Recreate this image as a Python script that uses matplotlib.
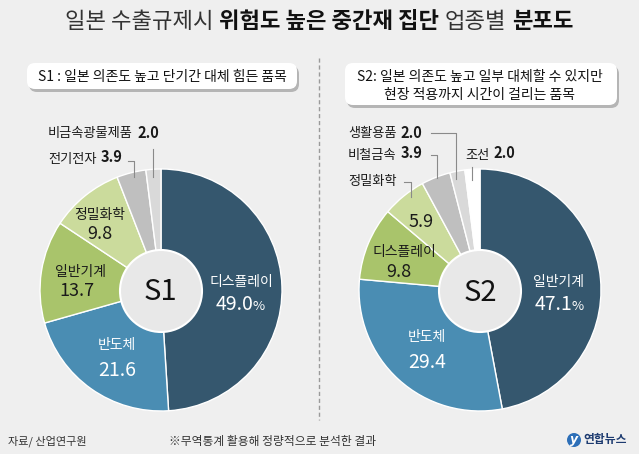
import matplotlib
matplotlib.use("Agg")
import matplotlib.pyplot as plt
from matplotlib.patches import Circle, FancyBboxPatch

plt.rcParams['font.family'] = ['Noto Sans CJK KR', 'DejaVu Sans']

W, H = 639, 454
BG = "#efefef"

# 데이터
s1_labels = ["디스플레이", "반도체", "일반기계", "정밀화학", "전기전자", "비금속광물제품"]
s1_values = [49.0, 21.6, 13.7, 9.8, 3.9, 2.0]
s2_labels = ["일반기계", "반도체", "디스플레이", "정밀화학", "비철금속", "생활용품", "조선"]
s2_values = [47.1, 29.4, 9.8, 5.9, 3.9, 2.0, 2.0]

navy, blue, olive, lgreen = "#35576e", "#4a8db3", "#a9c46b", "#cbdb9c"
gray, lgray = "#bfbfbf", "#d9d9d9"
s1_colors = [navy, blue, olive, lgreen, gray, lgray]
s2_colors = [navy, blue, olive, lgreen, gray, lgray, "#ffffff"]


def Y(y):
    return H - y


fig = plt.figure(figsize=(W / 100, H / 100), dpi=100, facecolor=BG)
ax = fig.add_axes([0, 0, 1, 1])
ax.set_facecolor(BG)


def txt(x, y, s, size, color="#1a1a1a", weight="normal", ha="center", va="center"):
    return ax.text(x, Y(y), s, fontsize=size, color=color, fontweight=weight,
                   ha=ha, va=va)


def chain(prev, s, size, color="#1a1a1a", weight="normal", dx=0, dy=0):
    return ax.annotate(s, xy=(1, 0), xycoords=prev, xytext=(dx, dy),
                       textcoords="offset points", fontsize=size, color=color,
                       fontweight=weight, ha="left", va="bottom")


# 파이 두 개
for vals, cols, cx in [(s1_values, s1_colors, 161), (s2_values, s2_colors, 480)]:
    ax.pie(vals, colors=cols, startangle=90, counterclock=False,
           center=(cx, Y(290)), radius=121,
           wedgeprops=dict(edgecolor="white", linewidth=1))
    ax.add_patch(Circle((cx, Y(291)), 41, fc="#e8e8e8", ec="white", lw=1.5, zorder=3))

ax.set_xlim(0, W)
ax.set_ylim(0, H)
ax.axis("off")

txt(160, 292, "S1", 21, color="#111111").set_zorder(4)
txt(480, 293, "S2", 21, color="#111111").set_zorder(4)

# 제목
parts = [("일본 수출규제시", "normal", "#333333"), ("위험도 높은 중간재 집단", "bold", "#111111"),
         ("업종별", "normal", "#333333"), ("분포도", "bold", "#111111")]
t0 = ax.text(0, Y(22), parts[0][0], fontsize=16, color=parts[0][2],
             fontweight=parts[0][1], ha="left", va="center")
last = t0
for s, w, c in parts[1:]:
    last = chain(last, s, 16, color=c, weight=w, dx=4)

# 부제 상자
for (x0, y0, x1, y1) in [(27, 63, 297, 89), (345, 63, 617, 105)]:
    ax.add_patch(FancyBboxPatch((x0 + 2, Y(y1 + 3)), x1 - x0, y1 - y0,
                                boxstyle="round,pad=0,rounding_size=8",
                                fc="#b5b5b5", ec="none"))
    ax.add_patch(FancyBboxPatch((x0, Y(y1)), x1 - x0, y1 - y0,
                                boxstyle="round,pad=0,rounding_size=8",
                                fc="white", ec="none"))
txt(162, 77, "S1 : 일본 의존도 높고 단기간 대체 힘든 품목", 10, color="#111111")
txt(480, 77, "S2: 일본 의존도 높고 일부 대체할 수 있지만", 10, color="#111111")
txt(480, 95, "현장 적용까지 시간이 걸리는 품목", 10, color="#111111")

# 구분선
ax.plot([319, 319], [Y(58), Y(420)], color="#9a9a9a", lw=1, ls=(0, (3, 2)))

# S1 내부 라벨
txt(241, 282, s1_labels[0], 10, color="white")
p = txt(216, 305, f"{s1_values[0]:.1f}", 14, color="white", ha="left")
chain(p, "%", 9.5, color="white", dx=-1, dy=1.5)
txt(117, 345, s1_labels[1], 10, color="white")
txt(117, 370, f"{s1_values[1]:.1f}", 14, color="white")
txt(80, 272, s1_labels[2], 10)
txt(77, 291, f"{s1_values[2]:.1f}", 13)
txt(100, 215, s1_labels[3], 10)
txt(100, 234, f"{s1_values[3]:.1f}", 13)

# S1 외부 라벨
p = txt(48, 134, s1_labels[5], 9.5, ha="left")
chain(p, f"{s1_values[5]:.1f}", 10.5, weight="bold", dx=3)
p = txt(48, 159, s1_labels[4], 9.5, ha="left")
chain(p, f"{s1_values[4]:.1f}", 10.5, weight="bold", dx=3)

lc = "#8a8a8a"
ax.plot([128, 134, 134], [Y(161), Y(161), Y(177)], color=lc, lw=0.8)
ax.plot([153, 153], [Y(149), Y(177)], color=lc, lw=0.8)

# S2 내부 라벨
txt(558, 282, s2_labels[0], 10, color="white")
p = txt(535, 305, f"{s2_values[0]:.1f}", 14, color="white", ha="left")
chain(p, "%", 9.5, color="white", dx=-1, dy=1.5)
txt(427, 337, s2_labels[1], 10, color="white")
txt(427, 362, f"{s2_values[1]:.1f}", 14, color="white")
txt(404, 252, s2_labels[2], 10)
txt(399, 272, f"{s2_values[2]:.1f}", 13)
txt(421, 222, f"{s2_values[3]:.1f}", 13)

# S2 외부 라벨
txt(348, 181, s2_labels[3], 9.5, ha="left")
p = txt(348, 134, s2_labels[5], 9.5, ha="left")
chain(p, f"{s2_values[5]:.1f}", 10.5, weight="bold", dx=3)
p = txt(348, 155, s2_labels[4], 9.5, ha="left")
chain(p, f"{s2_values[4]:.1f}", 10.5, weight="bold", dx=3)
p = txt(465, 155, s2_labels[6], 9.5, ha="left")
chain(p, f"{s2_values[6]:.1f}", 10.5, weight="bold", dx=3)

ax.plot([431, 456, 456], [Y(133), Y(133), Y(179)], color=lc, lw=0.8)
ax.plot([431, 437, 437], [Y(155), Y(155), Y(178)], color=lc, lw=0.8)
ax.plot([472, 472], [Y(167), Y(180)], color=lc, lw=0.8)
ax.plot([404, 411, 411], [Y(182), Y(182), Y(197)], color=lc, lw=0.8)

# 하단
txt(8, 441, "자료/ 산업연구원", 8, color="#333333", ha="left")
txt(169, 441, "※무역통계 활용해 정량적으로 분석한 결과", 8.5, color="#333333", ha="left")
ax.add_patch(Circle((574, Y(440)), 7, fc="#2d6fb8", ec="none"))
ax.text(574, Y(440), "y", fontsize=9, color="white", fontweight="bold",
        fontstyle="italic", ha="center", va="center", family="DejaVu Sans")
txt(583, 440, "연합뉴스", 8.5, color="#1d3b70", weight="bold", ha="left")

# 제목 가운데 정렬
fig.canvas.draw()
r = fig.canvas.get_renderer()
bx0 = t0.get_window_extent(r).x0
bx1 = last.get_window_extent(r).x1
t0.set_x((W - (bx1 - bx0)) / 2)

fig.savefig("out.png", dpi=100, facecolor=BG)
